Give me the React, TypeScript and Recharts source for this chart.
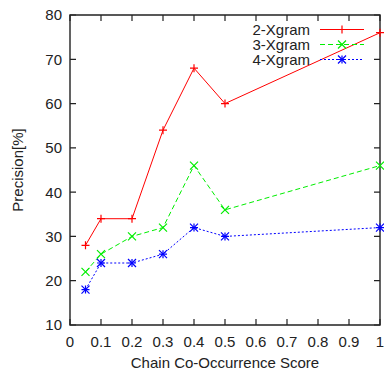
import { Legend, Line, LineChart, ReferenceArea, XAxis, YAxis } from "recharts";

// chain co-occurrence score thresholds
const scores = [0.05, 0.1, 0.2, 0.3, 0.4, 0.5, 1];
// precision [%] per n-gram size
const xgram2 = [28, 34, 34, 54, 68, 60, 76];
const xgram3 = [22, 26, 30, 32, 46, 36, 46];
const xgram4 = [18, 24, 24, 26, 32, 30, 32];

const xTicks = [0, 0.1, 0.2, 0.3, 0.4, 0.5, 0.6, 0.7, 0.8, 0.9, 1];
const yTicks = [10, 20, 30, 40, 50, 60, 70, 80];

const FONT = "'Liberation Sans', Arial, Helvetica, sans-serif";
const INK = "#222";
// plot box edges (px) — must agree with margins / axis sizes below
const LEFT = 70, RIGHT = 380, TOP = 15, BOTTOM = 325;
const TICK = 6;

type Mark = "plus" | "cross" | "star";

const series: { key: string; name: string; color: string; dash?: string; mark: Mark }[] = [
  { key: "x2", name: "2-Xgram", color: "#ff0000", mark: "plus" },
  { key: "x3", name: "3-Xgram", color: "#00ee00", dash: "5 3", mark: "cross" },
  { key: "x4", name: "4-Xgram", color: "#0000ff", dash: "2 2", mark: "star" },
];

const data = scores.map((x, i) => ({ x, x2: xgram2[i], x3: xgram3[i], x4: xgram4[i] }));

function Marker({ cx, cy, color, mark }: { cx: number; cy: number; color: string; mark: Mark }) {
  const r = 4;
  const plus = mark !== "cross";
  const cross = mark !== "plus";
  return (
    <g stroke={color} strokeWidth={1.2} fill="none">
      {plus && <path d={`M${cx - r},${cy}H${cx + r}M${cx},${cy - r}V${cy + r}`} />}
      {cross && <path d={`M${cx - r},${cy - r}L${cx + r},${cy + r}M${cx - r},${cy + r}L${cx + r},${cy - r}`} />}
    </g>
  );
}

function YTick({ x, y, payload }: any) {
  return (
    <g>
      <path d={`M${LEFT},${y}h${TICK}M${RIGHT},${y}h${-TICK}`} stroke={INK} strokeWidth={1.2} />
      <text x={x} y={y} dy="0.36em" textAnchor="end" fontSize={15} fill={INK} fontFamily={FONT}>
        {payload.value}
      </text>
    </g>
  );
}

function XTick({ x, y, payload }: any) {
  return (
    <g>
      <path d={`M${x},${BOTTOM}v${-TICK}M${x},${TOP}v${TICK}`} stroke={INK} strokeWidth={1.2} />
      <text x={x} y={y + 22} textAnchor="middle" fontSize={15} fill={INK} fontFamily={FONT}>
        {payload.value}
      </text>
    </g>
  );
}

function LegendBox() {
  return (
    <div style={{ fontFamily: FONT, fontSize: 15, color: INK }}>
      {series.map((s) => (
        <div key={s.key} style={{ display: "flex", alignItems: "center", height: 15 }}>
          <span style={{ width: 80, textAlign: "right", lineHeight: "15px" }}>{s.name}</span>
          <svg width={46} height={15} style={{ marginLeft: 10 }}>
            <line x1={0} y1={7.5} x2={44} y2={7.5} stroke={s.color} strokeWidth={1} strokeDasharray={s.dash} />
            <Marker cx={22} cy={7.5} color={s.color} mark={s.mark} />
          </svg>
        </div>
      ))}
    </div>
  );
}

export default function App() {
  return (
    <div style={{ position: "absolute", left: 0, top: 0, background: "#fff" }}>
      <LineChart width={384} height={370} data={data} margin={{ top: TOP, right: 384 - RIGHT, bottom: 0, left: 0 }}>
        <XAxis
          dataKey="x"
          type="number"
          domain={[0, 1]}
          ticks={xTicks}
          height={370 - BOTTOM}
          axisLine={false}
          tickLine={false}
          tickSize={0}
          tickMargin={0}
          tick={<XTick />}
          label={{ value: "Chain Co-Occurrence Score", position: "insideBottom", offset: 2, fontSize: 15, fill: INK, fontFamily: FONT }}
        />
        <YAxis
          type="number"
          domain={[10, 80]}
          ticks={yTicks}
          width={LEFT}
          axisLine={false}
          tickLine={false}
          tickSize={0}
          tickMargin={8}
          tick={<YTick />}
          label={{
            content: () => (
              <text x={18} y={170} transform="rotate(-90 18 170)" textAnchor="middle" dy="0.36em" fontSize={15} fill={INK} fontFamily={FONT}>
                Precision[%]
              </text>
            ),
          }}
        />
        <ReferenceArea x1={0} x2={1} y1={10} y2={80} fill="none" stroke={INK} strokeWidth={1.4} fillOpacity={0} />
        {series.map((s) => (
          <Line
            key={s.key}
            type="linear"
            dataKey={s.key}
            name={s.name}
            stroke={s.color}
            strokeWidth={1}
            strokeDasharray={s.dash}
            isAnimationActive={false}
            dot={(p: any) => <Marker key={`${s.key}-${p.index}`} cx={p.cx} cy={p.cy} color={s.color} mark={s.mark} />}
            activeDot={false}
          />
        ))}
        <Legend
          layout="vertical"
          align="center"
          verticalAlign="middle"
          content={() => <LegendBox />}
          wrapperStyle={{ top: 22, left: 230, width: 150 }}
        />
      </LineChart>
    </div>
  );
}
